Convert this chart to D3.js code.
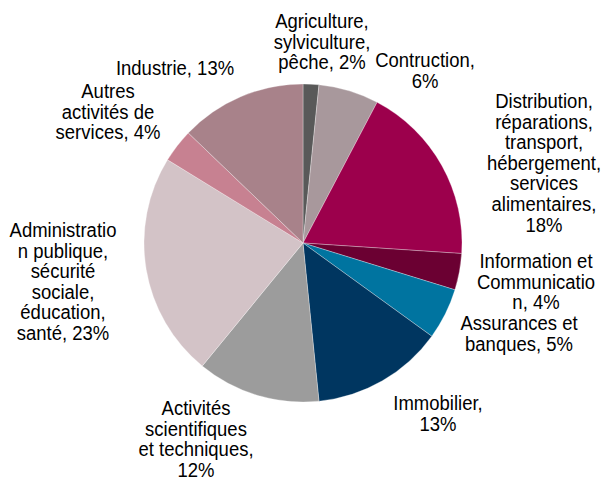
<!DOCTYPE html>
<html>
<head>
<meta charset="utf-8">
<script src="https://cdn.jsdelivr.net/npm/d3@7"></script>
<style>
  body { margin: 0; background: #fff; }
  text { font-family: "Liberation Sans", Arial, sans-serif; }
</style>
</head>
<body>
<div id="chart"></div>
<script>
// Sector shares (clockwise from 12 o'clock)
var sectors = ["Agriculture", "Construction", "Distribution", "Information", "Assurances",
               "Immobilier", "Activites", "Administration", "Autres", "Industrie"];
var shares = [1.6, 6.1, 18.3, 3.7, 5.2, 13.4, 12.5, 22.8, 3.4, 12.8];
var labels = [
  ["Agriculture,", "sylviculture,", "pêche, 2%"],
  ["Contruction,", "6%"],
  ["Distribution,", "réparations,", "transport,", "hébergement,", "services", "alimentaires,", "18%"],
  ["Information et", "Communicatio", "n, 4%"],
  ["Assurances et", "banques, 5%"],
  ["Immobilier,", "13%"],
  ["Activités", "scientifiques", "et techniques,", "12%"],
  ["Administratio", "n publique,", "sécurité", "sociale,", "éducation,", "santé, 23%"],
  ["Autres", "activités de", "services, 4%"],
  ["Industrie, 13%"]
];
var colors = ["#595959", "#a8989c", "#9c004c", "#6b0032", "#0074a0",
              "#003660", "#9c9c9c", "#d3c3c7", "#c78191", "#a8828a"];

// label block anchors: centre x, baseline of first line
var labelPos = [[322, 28], [425, 67], [544, 108], [536, 268], [519, 330],
                [438, 410], [196, 415], [63, 237], [108, 98], [175, 75]];

var width = 601, height = 482;
var cx = 303, cy = 243, radius = 159;
var lineH = 20.6, stretch = 1.1;

var svg = d3.select("#chart")
  .append("svg")
    .attr("width", width)
    .attr("height", height);

var pie = d3.pie().sort(null).value(function(d) { return d; });
var arc = d3.arc().innerRadius(0).outerRadius(radius);

var g = svg.append("g")
  .attr("transform", "translate(" + cx + "," + cy + ")");

g.selectAll("path")
  .data(pie(shares))
  .enter()
  .append("path")
    .attr("d", arc)
    .attr("fill", function(d, i) { return colors[i]; })
    .attr("stroke", "#ffffff")
    .attr("stroke-opacity", 0.5)
    .attr("stroke-width", 0.6);

// labels (text in the original is a bit taller than wide)
labels.forEach(function(lines, i) {
  var t = svg.append("text")
    .attr("text-anchor", "middle")
    .attr("font-size", "18.5px")
    .attr("fill", "#000")
    .attr("transform", "translate(" + labelPos[i][0] + "," + labelPos[i][1] + ") scale(1," + stretch + ")");
  lines.forEach(function(s, k) {
    t.append("tspan")
      .attr("x", 0)
      .attr("y", k*lineH/stretch)
      .text(s);
  });
});
</script>
</body>
</html>
